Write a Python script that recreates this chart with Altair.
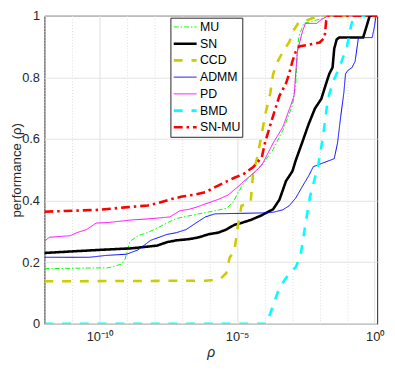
import altair as alt
import pandas as pd

# ---- data (x given as log10 exponent of rho, y = performance) ----
methods = ["MU", "SN", "CCD", "ADMM", "PD", "BMD", "SN-MU"]
colors = ["#00ff00", "#000000", "#cccc00", "#0000ff", "#ff00ff", "#00ffff", "#ff0000"]
dashes = [[5, 2, 1.5, 2], [1, 0], [9, 9], [1, 0], [1, 0], [9, 9], [9, 4, 2.5, 4]]
widths = [1, 2.6, 2.6, 1, 1, 2.6, 2.6]

mu_exp = [-12, -9.66, -9.19, -9.07, -8.89, -8.6, -8.25, -7.9, -7.44, -7.2, -6.5, -5.8, -5.39, -5.15,
          -4.98, -4.74, -4.51, -4.28, -4.01, -3.69, -3.34, -2.99, -2.87, -2.81, -2.75, -2.58, -1.94, -1.7, 0.09]
mu_val = [0.179, 0.182, 0.194, 0.21, 0.268, 0.286, 0.296, 0.311, 0.332, 0.342, 0.355, 0.367, 0.375, 0.393,
          0.424, 0.459, 0.48, 0.50, 0.526, 0.566, 0.627, 0.709, 0.771, 0.883, 0.934, 0.975, 0.99, 1.0, 1.0]

sn_exp = [-12, -10, -8.84, -7.9, -7.55, -7.2, -6.73, -6.38, -6.03, -5.68, -5.39, -5.1, -4.86, -4.51, -4.16,
          -3.69, -3.46, -3.22, -2.99, -2.87, -2.64, -2.4, -2.17, -1.94, -1.76, -1.65, -1.53, -1.47, -1.38,
          -1.29, -0.42, -0.3, -0.18, 0.09]
sn_val = [0.230, 0.240, 0.245, 0.254, 0.265, 0.271, 0.275, 0.281, 0.291, 0.296, 0.306, 0.321, 0.327, 0.337,
          0.350, 0.372, 0.403, 0.464, 0.495, 0.530, 0.587, 0.648, 0.699, 0.730, 0.781, 0.811, 0.832, 0.893,
          0.923, 0.929, 0.929, 0.964, 1.0, 1.0]

ccd_exp = [-12, -6.15, -5.62, -5.39, -5.27, -5.1, -4.98, -4.84, -4.51, -4.42, -4.28, -4.1, -3.98, -3.87,
           -3.79, -3.69, -3.52, -3.28, -3.11, -2.93, -2.75, -2.4, -2.05, 0.09]
ccd_val = [0.138, 0.140, 0.145, 0.165, 0.215, 0.235, 0.311, 0.383, 0.393, 0.485, 0.536, 0.617, 0.679, 0.719,
           0.75, 0.811, 0.852, 0.893, 0.913, 0.954, 0.98, 0.987, 1.0, 1.0]

admm_exp = [-12, -10.36, -9.77, -9.01, -8.6, -8.14, -7.55, -7.2, -6.85, -6.5, -6.15, -5.8, -4.04, -3.69,
            -3.34, -3.11, -2.87, -2.64, -2.4, -2.23, -1.94, -1.47, -1.35, -1.24, -1.12, -1.06, -0.98, -0.82,
            -0.71, -0.59, -0.09, -0.01, 0.05, 0.09]
admm_val = [0.216, 0.216, 0.222, 0.226, 0.240, 0.271, 0.290, 0.296, 0.306, 0.327, 0.347, 0.357, 0.360, 0.362,
            0.370, 0.383, 0.408, 0.444, 0.480, 0.510, 0.520, 0.536, 0.587, 0.669, 0.75, 0.811, 0.822, 0.832,
            0.852, 0.929, 0.929, 0.964, 1.0, 1.0]

pd_exp = [-12, -11.82, -11.06, -10.82, -10.47, -10.12, -9.66, -8.85, -8.02, -7.44, -7.08, -6.73, -6.5, -6.03,
          -5.68, -5.33, -4.98, -4.74, -4.39, -4.1, -3.98, -3.69, -3.34, -3.05, -2.93, -2.87, -2.81, -2.64,
          -2.52, -2.11, -1.94, -1.7, 0.09]
pd_val = [0.268, 0.281, 0.286, 0.296, 0.306, 0.327, 0.329, 0.337, 0.342, 0.347, 0.367, 0.372, 0.378, 0.393,
          0.404, 0.418, 0.444, 0.464, 0.49, 0.515, 0.536, 0.587, 0.638, 0.709, 0.74, 0.811, 0.883, 0.944,
          0.975, 0.975, 0.987, 1.0, 1.0]

bmd_exp = [-12, -3.93, -3.46, -3.11, -2.87, -2.7, -2.52, -2.35, -2.05, -1.88, -1.7, -1.53, -1.24, -1.0,
           -0.89, -0.77, 0.09]
bmd_val = [0.0, 0.0, 0.118, 0.163, 0.184, 0.219, 0.321, 0.413, 0.515, 0.607, 0.73, 0.781, 0.842, 0.903,
           0.954, 1.0, 1.0]

snmu_exp = [-12, -10, -9.07, -8.25, -7.9, -7.38, -7.0, -6.5, -6.15, -5.8, -5.45, -5.1, -4.75, -4.4, -4.1,
            -3.98, -3.69, -3.46, -3.22, -3.11, -2.99, -2.87, -2.75, -2.0, -1.82, -1.76, -1.7, 0.09]
snmu_val = [0.364, 0.370, 0.378, 0.384, 0.391, 0.405, 0.413, 0.420, 0.427, 0.444, 0.459, 0.474, 0.487, 0.510,
            0.541, 0.59, 0.675, 0.74, 0.781, 0.811, 0.852, 0.883, 0.900, 0.913, 0.929, 0.985, 1.0, 1.0]

series = {
    "MU": (mu_exp, mu_val),
    "SN": (sn_exp, sn_val),
    "CCD": (ccd_exp, ccd_val),
    "ADMM": (admm_exp, admm_val),
    "PD": (pd_exp, pd_val),
    "BMD": (bmd_exp, bmd_val),
    "SN-MU": (snmu_exp, snmu_val),
}

decades = list(range(-12, 1))

rows = []
for order, m in enumerate(methods):
    ex, vals = series[m]
    for e, v in zip(ex, vals):
        rows.append({"method": m, "rho": 10.0 ** e, "perf": v, "order": order})
df = pd.DataFrame(rows)

FONT = "Liberation Sans"
AX = "#262626"
W, H = 338, 313
xmin, xmax = 1e-12, 10.0 ** 0.09

exp_expr = "round(log(datum.value)/LN10)"
label_expr = (f"{exp_expr}==-10 ? '10⁻¹⁰' : {exp_expr}==-5 ? '10⁻⁵' : "
              f"{exp_expr}==0 ? '10⁰' : ''")

x_enc = alt.X(
    "rho:Q",
    scale=alt.Scale(type="log", domain=[xmin, xmax], nice=False),
    axis=alt.Axis(
        values=[10.0 ** d for d in decades],
        labelExpr=label_expr,
        labelFlush=False,
        labelOverlap=False,
        grid=True,
        gridColor="#dcdcdc",
        gridDash={"condition": {"test": f"{exp_expr} % 5 == 0", "value": [1, 0]}, "value": [1, 2]},
        domain=False,
        ticks=False,
        labelFont=FONT,
        labelFontSize=13,
        labelColor=AX,
        labelPadding=7,
        title="ρ",
        titleFont=FONT,
        titleFontSize=14,
        titleFontStyle="italic",
        titleFontWeight="normal",
        titleColor=AX,
        titlePadding=2,
    ),
)

y_enc = alt.Y(
    "perf:Q",
    scale=alt.Scale(domain=[0, 1], nice=False),
    axis=alt.Axis(
        values=[0, 0.2, 0.4, 0.6, 0.8, 1.0],
        format="~g",
        grid=True,
        gridColor="#e3e3e3",
        domain=False,
        ticks=False,
        labelFont=FONT,
        labelFontSize=13,
        labelColor=AX,
        labelPadding=5,
        title="performance (ρ)",
        titleFont=FONT,
        titleFontSize=13.5,
        titleFontWeight="normal",
        titleColor=AX,
        titleBaseline="alphabetic",
        titleX=-24.5,
        titleY=H / 2,
    ),
)

legend = alt.Legend(
    orient="none",
    legendX=128,
    legendY=2,
    title=None,
    symbolType="stroke",
    symbolSize=540,
    clipHeight=14.8,
    labelFont=FONT,
    labelFontSize=12.5,
    labelColor="#000000",
    labelOffset=2,
    strokeColor=AX,
    fillColor="white",
    padding=2,
    rowPadding=2,
)

chart = alt.Chart(df).mark_line(clip=True).encode(
    x=x_enc,
    y=y_enc,
    color=alt.Color("method:N", scale=alt.Scale(domain=methods, range=colors), legend=legend),
    strokeDash=alt.StrokeDash("method:N", scale=alt.Scale(domain=methods, range=dashes), legend=legend),
    strokeWidth=alt.StrokeWidth("method:N",
                                scale=alt.Scale(type="ordinal", domain=methods, range=widths),
                                legend=legend),
    order="order:Q",
).properties(
    width=W,
    height=H,
    autosize=alt.AutoSizeParams(type="none"),
    padding={"left": 37, "top": 5, "right": 10, "bottom": 40},
).configure_view(
    stroke=AX,
    strokeWidth=1,
)

chart.save("out.html", embed_options={"renderer": "svg", "actions": False})
